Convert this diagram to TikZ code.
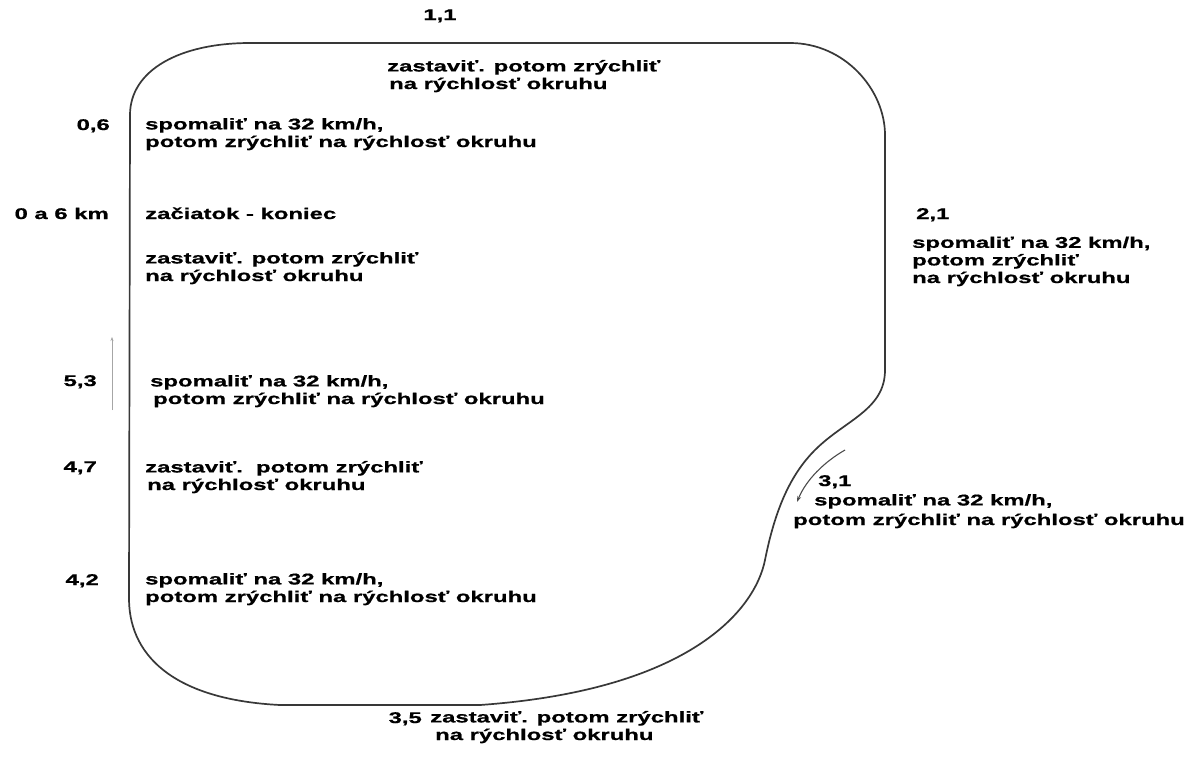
\documentclass[tikz,border=0pt]{standalone}
\usepackage{fontspec}
\newfontfamily\lbl{Liberation Sans Bold}[FakeStretch=1.54,FakeBold=0.8]
\usetikzlibrary{arrows.meta}
\tikzset{
  track/.style={draw=black!78, line width=1.7pt, line join=round},
  % multi-line labels are placed by the baseline of their last line
  txt/.style={anchor=base west, align=left, inner sep=0pt,
    font=\lbl\fontsize{15.5}{17.6}\selectfont},
  km/.style={anchor=base east, inner sep=0pt,
    font=\lbl\fontsize{15.5}{17.6}\selectfont},
  kmc/.style={anchor=base, inner sep=0pt,
    font=\lbl\fontsize{15.5}{17.6}\selectfont},
  dirarrow/.style={draw=black!70, line width=1.1pt, -{Stealth[length=6pt,width=4pt]}},
  hintarrow/.style={draw=black!35, line width=0.8pt, -{Stealth[length=4pt,width=3pt]}}
}
\begin{document}
\begin{tikzpicture}[x=1pt,y=-1pt]
  \path[fill=white] (0,0) rectangle (1192,756);
  \useasboundingbox (0,0) rectangle (1192,756);

  % circuit outline
  \draw[track]
    (129,600) -- (130,115)
    .. controls (130,70) and (180,43) .. (250,43)
    -- (790,43)
    .. controls (845,43) and (885,90) .. (885,135)
    -- (885,370)
    .. controls (885,410) and (845,420) .. (815,450)
    .. controls (790,475) and (775,510) .. (765,560)
    .. controls (755,610) and (690,690) .. (480,705)
    -- (280,705)
    .. controls (180,700) and (130,660) .. (129,600) -- cycle;

  % direction hints
  \coordinate (h1) at (112,410);
  \coordinate (h2) at (112,337);
  \draw[hintarrow] (h1) -- (h2);
  \coordinate (d1) at (845,450);
  \coordinate (d2) at (797,502);
  \draw[dirarrow] (d1) .. controls (824,462) and (806,480) .. (d2);

  % kilometre marks
  \node[kmc] (k11) at (440,20) {1,1};
  \node[km]  (k06) at (110,130) {0,6};
  \node[km]  (k00) at (109,219) {0 a 6 km};
  \node[km]  (k53) at (97,386) {5,3};
  \node[km]  (k47) at (97,472) {4,7};
  \node[km]  (k42) at (99,585) {4,2};
  \node[txt] (k21) at (916,219) {2,1};
  \node[txt] (k31) at (818,486) {3,1};
  \node[km]  (k35) at (422,723) {3,5};

  % instructions
  \node[txt] (t11) at (387,89) {zastaviť. potom zrýchliť\\\hspace*{2pt}na rýchlosť okruhu};
  \node[txt] (t06) at (145,147) {spomaliť na 32 km/h,\\potom zrýchliť na rýchlosť okruhu};
  \node[txt] (t00) at (145,219) {začiatok - koniec};
  \node[txt] (t00b) at (145,281) {zastaviť. potom zrýchliť\\na rýchlosť okruhu};
  \node[txt] (t53) at (150,404) {spomaliť na 32 km/h,\\\hspace*{3pt}potom zrýchliť na rýchlosť okruhu};
  \node[txt] (t47) at (145,490) {zastaviť.\ \ potom zrýchliť\\\hspace*{2pt}na rýchlosť okruhu};
  \node[txt] (t42) at (145,602) {spomaliť na 32 km/h,\\potom zrýchliť na rýchlosť okruhu};
  \node[txt] (t21) at (912,283) {spomaliť na 32 km/h,\\potom zrýchliť\\na rýchlosť okruhu};
  \node[txt] (t31) at (793,525) {\hspace*{21pt}spomaliť na 32 km/h,\\[2pt]potom zrýchliť na rýchlosť okruhu};
  \node[txt] (t35) at (430,740) {zastaviť. potom zrýchliť\\\hspace*{5pt}na rýchlosť okruhu};
\end{tikzpicture}
\end{document}
